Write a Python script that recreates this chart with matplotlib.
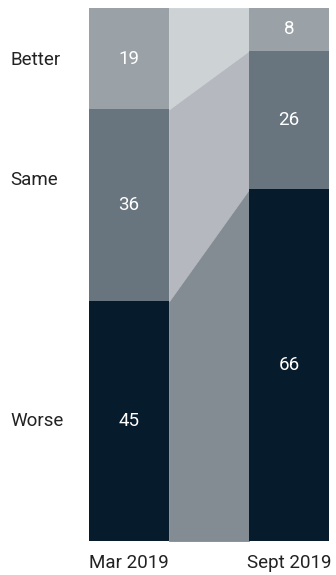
import matplotlib.pyplot as plt

# data
periods = ['Mar 2019', 'Sept 2019']
categories = ['Worse', 'Same', 'Better']
worse = [45, 66]
same = [36, 26]
better = [19, 8]

bar_colors = ['#061b2b', '#68757e', '#9aa2a8']
band_colors = ['#848c93', '#b5b9bf', '#cdd2d5']

plt.rcParams['font.family'] = ['Roboto', 'DejaVu Sans']

fig = plt.figure(figsize=(3.36, 5.75), dpi=100)
ax = fig.add_axes([89 / 336, 34 / 575, 240 / 336, 533 / 575])

xs = [0.5, 2.5]
series = [worse, same, better]

# connecting bands between the bars (drawn under the bars, a bit wider to hide seams)
lo = [0, 0]
for vals, col in zip(series, band_colors):
    hi = [l + v for l, v in zip(lo, vals)]
    ax.fill_between([1, 2], lo, hi, color=col, linewidth=0.6, edgecolor=col,
                    zorder=1)
    lo = hi

# stacked bars
bottoms = [0, 0]
for vals, col in zip(series, bar_colors):
    ax.bar(xs, vals, width=1.0, bottom=bottoms, color=col, linewidth=0,
           zorder=2)
    for x, b, v in zip(xs, bottoms, vals):
        ax.text(x, b + v / 2, str(v), ha='center', va='center',
                color='white', fontsize=13.5, zorder=3)
    bottoms = [b + v for b, v in zip(bottoms, vals)]

ax.set_xlim(0, 3)
ax.set_ylim(0, 100)
ax.axis('off')

# row labels on the left
label_y = [22.5, 67.7, 90.3]
for name, y in zip(categories, label_y):
    ax.text(-0.98, y, name, ha='left', va='center', fontsize=13.5,
            color='#222222')

for x, p in zip(xs, periods):
    ax.text(x, -4.2, p, ha='center', va='center', fontsize=13.5,
            color='#222222')

fig.savefig('out.png', dpi=100)
